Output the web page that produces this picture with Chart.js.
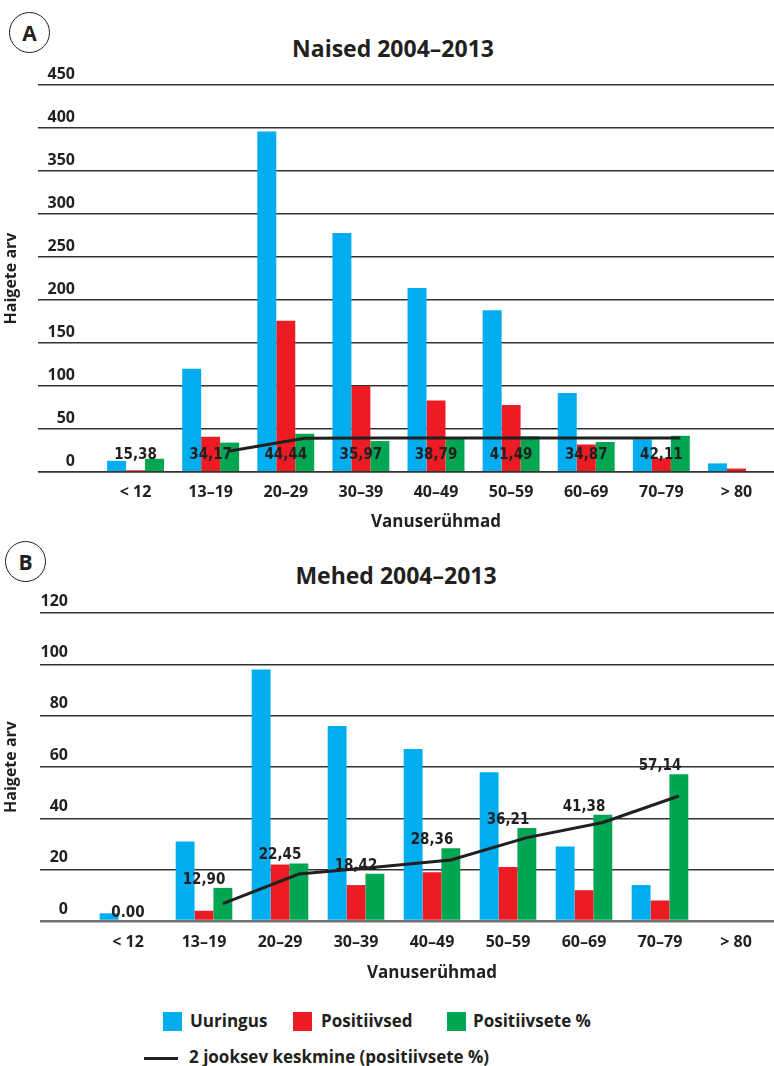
<!DOCTYPE html>
<html>
<head>
<meta charset="utf-8">
<script src="https://cdn.jsdelivr.net/npm/chart.js@4.4.1/dist/chart.umd.min.js"></script>
<style>
  html, body { margin: 0; padding: 0; background: #ffffff; }
  body { width: 774px; height: 1066px; position: relative; overflow: hidden;
         font-family: 'Open Sans', 'Noto Sans', sans-serif; color: #231f20; }
  canvas { position: absolute; left: 0; }
  .circle { position: absolute; width: 41px; height: 41px; box-sizing: border-box;
            border: 1.6px solid #231f20; border-radius: 50%; display: flex;
            align-items: center; justify-content: center; font-weight: 700; font-size: 21px; }
  .title { position: absolute; width: 774px; text-align: center; font-weight: 700;
           font-size: 23px; line-height: 30px; }
  .sw { position: absolute; width: 19px; height: 19px; }
  .lt { position: absolute; font-weight: 700; font-size: 17px; line-height: 22px; white-space: nowrap; }
  .ln { position: absolute; height: 3px; background: #231f20; }
</style>
</head>
<body>
<div class="circle" style="left:9px;top:12px;">A</div>
<div class="title" style="left:6px;top:33px;">Naised 2004–2013</div>
<canvas id="chartA" width="774" height="540" style="top:0px;"></canvas>

<div class="circle" style="left:5px;top:541px;">B</div>
<div class="title" style="left:9px;top:560px;">Mehed 2004–2013</div>
<canvas id="chartB" width="774" height="460" style="top:540px;"></canvas>

<div class="sw" style="left:163px;top:1012px;background:#00aeef;"></div>
<div class="lt" style="left:190px;top:1010px;">Uuringus</div>
<div class="sw" style="left:293px;top:1012px;background:#ed1c24;"></div>
<div class="lt" style="left:321px;top:1010px;">Positiivsed</div>
<div class="sw" style="left:447px;top:1012px;background:#00a651;"></div>
<div class="lt" style="left:473px;top:1010px;">Positiivsete %</div>
<div class="ln" style="left:144px;top:1057px;width:34px;"></div>
<div class="lt" style="left:189px;top:1046px;">2 jooksev keskmine (positiivsete %)</div>

<script>
// ---------- DATA ----------
const categories = ['< 12', '13–19', '20–29', '30–39', '40–49', '50–59', '60–69', '70–79', '> 80'];

// A: Naised 2004–2013
const uuringusA    = [13, 120, 396, 278, 214, 188, 92, 38, 10];
const positiivsedA = [2, 41, 176, 100, 83, 78, 32, 16, 4];
const protsentA    = [15.38, 34.17, 44.44, 35.97, 38.79, 41.49, 34.87, 42.11, null];
const keskmineA    = [null, 24.5, 39.3, 39.6, 39.4, 39.6, 39.5, 39.5, null];
const protsentTekstA = ['15,38', '34,17', '44,44', '35,97', '38,79', '41,49', '34,87', '42,11', ''];
const yMaxA = 450, yStepA = 50;

// B: Mehed 2004–2013
const uuringusB    = [3, 31, 98, 76, 67, 58, 29, 14, null];
const positiivsedB = [0, 4, 22, 14, 19, 21, 12, 8, null];
const protsentB    = [0, 12.90, 22.45, 18.42, 28.36, 36.21, 41.38, 57.14, null];
const keskmineB    = [null, 6.8, 18.3, 20.9, 23.8, 32.5, 38.4, 48.7, null];
const protsentTekstB = ['0.00', '12,90', '22,45', '18,42', '28,36', '36,21', '41,38', '57,14', ''];
const yMaxB = 120, yStepB = 20;

// ---------- CHARTS ----------
const INK = '#231f20';
const tickFont = { family: "'Open Sans', 'Noto Sans', sans-serif", size: 16, weight: 'bold' };

// the moving-average line is plotted at the x of the green (percentage) bars
const lineOnGreen = {
  id: 'lineOnGreen',
  afterDatasetsUpdate(chart) {
    const lineMeta = chart.getDatasetMeta(0);
    const greenMeta = chart.getDatasetMeta(3);
    lineMeta.data.forEach((pt, i) => {
      const bar = greenMeta.data[i];
      if (bar) pt.x = bar.x;
    });
  }
};

const pctLabels = {
  id: 'pctLabels',
  afterDatasetsDraw(chart, args, opts) {
    const { ctx } = chart;
    const xs = chart.scales.x, ys = chart.scales.y;
    ctx.save();
    ctx.font = "bold 15px 'DejaVu Sans Condensed', 'DejaVu Sans', sans-serif";
    ctx.fillStyle = INK;
    ctx.textAlign = 'center';
    ctx.textBaseline = 'middle';
    opts.texts.forEach((t, i) => {
      if (!t) return;
      const px = xs.getPixelForValue(i);
      const py = opts.atBase ? ys.getPixelForValue(0) - opts.gap
                             : ys.getPixelForValue(opts.values[i]) - opts.gap;
      ctx.fillText(t, px, py);
    });
    ctx.restore();
  }
};

function makeChart(id, c) {
  return new Chart(document.getElementById(id), {
    type: 'bar',
    data: {
      labels: categories,
      datasets: [
        { type: 'line', label: '2 jooksev keskmine (positiivsete %)', data: c.line,
          borderColor: INK, borderWidth: 3, pointRadius: 0, fill: false, tension: 0,
          spanGaps: false, order: 0 },
        { label: 'Uuringus', data: c.blue, backgroundColor: '#00aeef', order: 1 },
        { label: 'Positiivsed', data: c.red, backgroundColor: '#ed1c24', order: 1 },
        { label: 'Positiivsete %', data: c.green, backgroundColor: '#00a651', order: 1 }
      ]
    },
    options: {
      responsive: false,
      animation: false,
      devicePixelRatio: 1,
      layout: { padding: { top: c.top, left: 0, right: 0, bottom: 0 } },
      datasets: { bar: { categoryPercentage: c.catPct, barPercentage: 1.0 } },
      plugins: {
        legend: { display: false },
        tooltip: { enabled: false },
        title: { display: false },
        pctLabels: { texts: c.texts, values: c.green, atBase: c.atBase, gap: c.gap }
      },
      scales: {
        x: {
          type: 'category', offset: true,
          grid: { display: false, drawTicks: false },
          border: { display: false },
          ticks: { color: INK, font: tickFont, padding: c.xTickPad, autoSkip: false, maxRotation: 0 },
          title: { display: true, text: 'Vanuserühmad', color: INK,
                   font: { family: tickFont.family, size: 17, weight: 'bold' },
                   padding: { top: 0, bottom: c.xTitlePad } },
          afterFit: s => { s.height = c.xAxisH; }
        },
        y: {
          min: 0, max: c.yMax,
          border: { display: false },
          grid: {
            drawTicks: true, tickLength: c.tickLen,
            color: ctx => (ctx.tick && ctx.tick.value === 0) ? c.zeroColor : '#333333',
            lineWidth: ctx => (ctx.tick && ctx.tick.value === 0) ? c.zeroWidth : 1.6
          },
          ticks: { stepSize: c.yStep, color: INK, font: tickFont, padding: c.yTickPad, labelOffset: c.yLabelOff },
          title: { display: true, text: 'Haigete arv', color: INK,
                   font: { family: tickFont.family, size: 16, weight: 'bold' },
                   padding: { top: 2, bottom: 0 } },
          afterFit: s => { s.width = c.yAxisW; }
        }
      }
    },
    plugins: [lineOnGreen, pctLabels]
  });
}

makeChart('chartA', {
  blue: uuringusA, red: positiivsedA, green: protsentA, line: keskmineA, texts: protsentTekstA,
  yMax: yMaxA, yStep: yStepA, catPct: 0.758, top: 85, xAxisH: 68, xTickPad: 11, xTitlePad: 8,
  yAxisW: 98, tickLen: 60, yTickPad: -37, yLabelOff: -11, atBase: true, gap: 17,
  zeroColor: '#333333', zeroWidth: 1.8
});

makeChart('chartB', {
  blue: uuringusB, red: positiivsedB, green: protsentB, line: keskmineB, texts: protsentTekstB,
  yMax: yMaxB, yStep: yStepB, catPct: 0.745, top: 73, xAxisH: 79, xTickPad: 12, xTitlePad: 17,
  yAxisW: 90, tickLen: 50, yTickPad: -28, yLabelOff: -12, atBase: false, gap: 8,
  zeroColor: '#707070', zeroWidth: 2.5
});
</script>
</body>
</html>
